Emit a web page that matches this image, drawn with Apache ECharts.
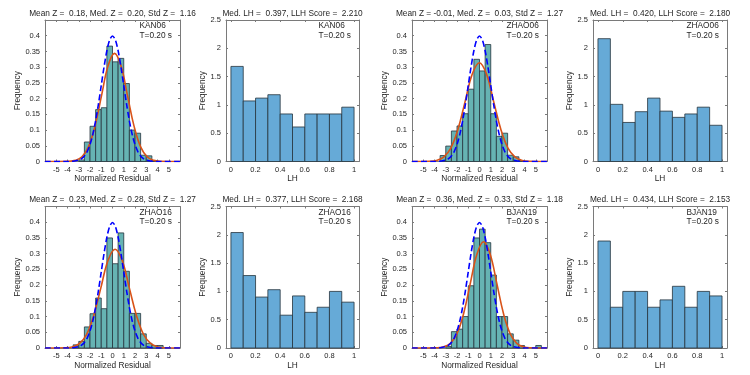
<!DOCTYPE html>
<html>
<head>
<meta charset="utf-8">
<script src="https://cdn.jsdelivr.net/npm/echarts@6/dist/echarts.min.js"></script>
<style>
  html, body { margin: 0; background: #fff; }
  #chart { width: 750px; height: 375px; }
</style>
</head>
<body>
<div id="chart"></div>
<script>
// ---- data ----
const residualBins = [-6, -5.5, -5, -4.5, -4, -3.5, -3, -2.5, -2, -1.5, -1, -0.5, 0, 0.5, 1, 1.5, 2, 2.5, 3, 3.5, 4, 4.5, 5, 5.5];
const residualTicks = [-5, -4, -3, -2, -1, 0, 1, 2, 3, 4, 5];
const residualYTicks = [0, 0.05, 0.1, 0.15, 0.2, 0.25, 0.3, 0.35, 0.4];

const kan06Resid  = [0, 0, 0, 0, 0, 0, 0.005, 0.062, 0.112, 0.165, 0.171, 0.367, 0.317, 0.328, 0.248, 0.10, 0.09, 0.02, 0.018, 0.003, 0, 0, 0, 0];
const zhao06Resid = [0, 0, 0, 0, 0, 0.019, 0.049, 0.097, 0.113, 0.152, 0.23, 0.325, 0.288, 0.372, 0.152, 0.08, 0.09, 0.02, 0.015, 0.003, 0, 0, 0, 0];
const zhao16Resid = [0, 0, 0, 0, 0, 0.01, 0.021, 0.067, 0.109, 0.159, 0.125, 0.35, 0.268, 0.366, 0.244, 0.11, 0.11, 0.045, 0.015, 0.008, 0.008, 0, 0, 0];
const bjan19Resid = [0, 0, 0, 0, 0, 0, 0.005, 0.052, 0.06, 0.1, 0.198, 0.35, 0.378, 0.335, 0.232, 0.1, 0.1, 0.045, 0.025, 0.008, 0, 0, 0.008, 0];

// standard normal (blue dashed), same in every residual panel
const stdNormal = [[-6, 0], [-4, 0.0001], [-3.5, 0.0009], [-3, 0.0044], [-2.75, 0.0091], [-2.5, 0.0175], [-2.25, 0.0317], [-2, 0.054],
  [-1.75, 0.0863], [-1.5, 0.1295], [-1.25, 0.1826], [-1, 0.242], [-0.75, 0.3011], [-0.5, 0.3521], [-0.25, 0.3867], [0, 0.3989],
  [0.25, 0.3867], [0.5, 0.3521], [0.75, 0.3011], [1, 0.242], [1.25, 0.1826], [1.5, 0.1295], [1.75, 0.0863], [2, 0.054],
  [2.25, 0.0317], [2.5, 0.0175], [2.75, 0.0091], [3, 0.0044], [3.5, 0.0009], [4, 0.0001], [6, 0]];

// fitted normal curves (orange)
const kan06Fit = [[-6, 0], [-3.88, 0.0008], [-3.30, 0.0038], [-2.72, 0.0151], [-2.14, 0.0465], [-1.56, 0.1117], [-0.98, 0.2086], [-0.40, 0.3035],
  [0.18, 0.3439], [0.76, 0.3035], [1.34, 0.2086], [1.92, 0.1117], [2.50, 0.0465], [3.08, 0.0151], [3.66, 0.0038], [4.24, 0.0008], [6, 0]];
const zhao06Fit = [[-6, 0], [-4.46, 0.0007], [-3.82, 0.0035], [-3.19, 0.0138], [-2.55, 0.0425], [-1.92, 0.1020], [-1.28, 0.1905], [-0.65, 0.2772],
  [-0.01, 0.3141], [0.63, 0.2772], [1.26, 0.1905], [1.90, 0.1020], [2.53, 0.0425], [3.17, 0.0138], [3.80, 0.0035], [4.44, 0.0007], [6, 0]];
const zhao16Fit = [[-6, 0], [-4.22, 0.0007], [-3.58, 0.0035], [-2.95, 0.0138], [-2.31, 0.0425], [-1.68, 0.1020], [-1.04, 0.1905], [-0.41, 0.2772],
  [0.23, 0.3141], [0.87, 0.2772], [1.50, 0.1905], [2.14, 0.1020], [2.77, 0.0425], [3.41, 0.0138], [4.04, 0.0035], [4.68, 0.0007], [6, 0]];
const bjan19Fit = [[-6, 0], [-3.77, 0.0007], [-3.18, 0.0038], [-2.59, 0.0149], [-2.00, 0.0458], [-1.41, 0.1098], [-0.82, 0.2051], [-0.23, 0.2984],
  [0.36, 0.3381], [0.95, 0.2984], [1.54, 0.2051], [2.13, 0.1098], [2.72, 0.0458], [3.31, 0.0149], [3.90, 0.0038], [4.49, 0.0007], [6, 0]];

const lhBins = [0, 0.1, 0.2, 0.3, 0.4, 0.5, 0.6, 0.7, 0.8, 0.9];
const lhTicks = [0, 0.2, 0.4, 0.6, 0.8, 1];
const lhYTicks = [0, 0.5, 1, 1.5, 2, 2.5];
const kan06LH  = [1.68, 1.07, 1.12, 1.18, 0.84, 0.61, 0.84, 0.84, 0.84, 0.96];
const zhao06LH = [2.17, 1.01, 0.69, 0.88, 1.12, 0.89, 0.78, 0.84, 0.96, 0.64];
const zhao16LH = [2.04, 1.28, 0.9, 1.03, 0.58, 0.92, 0.63, 0.72, 1.0, 0.81];
const bjan19LH = [1.89, 0.72, 1.0, 1.0, 0.72, 0.85, 1.09, 0.72, 1.0, 0.92];

const residTitles = [
  'Mean Z =  0.18, Med. Z =  0.20, Std Z =  1.16',
  'Mean Z = -0.01, Med. Z =  0.03, Std Z =  1.27',
  'Mean Z =  0.23, Med. Z =  0.28, Std Z =  1.27',
  'Mean Z =  0.36, Med. Z =  0.33, Std Z =  1.18'
];
const lhTitles = [
  'Med. LH =  0.397, LLH Score =  2.210',
  'Med. LH =  0.420, LLH Score =  2.180',
  'Med. LH =  0.377, LLH Score =  2.168',
  'Med. LH =  0.434, LLH Score =  2.153'
];
const stations = ['KAN06', 'ZHAO06', 'ZHAO16', 'BJAN19'];
const period = 'T=0.20 s';

// ---- layout / style ----
const FONT = '"Liberation Sans", Arial, Helvetica, sans-serif';
const textColor = '#262626';
const axisColor = '#7a7a7a';
const residFill = '#66b3b3';
const lhFill = '#66aad7';
const barEdge = '#26343c';

const panels = [
  { kind: 'resid', left: 45,  top: 20,    width: 135, title: residTitles[0], station: stations[0], bars: kan06Resid,  fit: kan06Fit },
  { kind: 'lh',    left: 226, top: 20,    width: 133, title: lhTitles[0],    station: stations[0], bars: kan06LH },
  { kind: 'resid', left: 412, top: 20,    width: 135, title: residTitles[1], station: stations[1], bars: zhao06Resid, fit: zhao06Fit },
  { kind: 'lh',    left: 593, top: 20,    width: 134, title: lhTitles[1],    station: stations[1], bars: zhao06LH },
  { kind: 'resid', left: 45,  top: 206.5, width: 135, title: residTitles[2], station: stations[2], bars: zhao16Resid, fit: zhao16Fit },
  { kind: 'lh',    left: 226, top: 206.5, width: 133, title: lhTitles[2],    station: stations[2], bars: zhao16LH },
  { kind: 'resid', left: 412, top: 206.5, width: 135, title: residTitles[3], station: stations[3], bars: bjan19Resid, fit: bjan19Fit },
  { kind: 'lh',    left: 593, top: 206.5, width: 134, title: lhTitles[3],    station: stations[3], bars: bjan19LH }
];
const PANEL_H = 141.5;

const grid = [], xAxis = [], yAxis = [], series = [], graphic = [];

const histRender = (fill) => (params, api) => {
  const h = api.value(2);
  if (!h) return null;
  const p0 = api.coord([api.value(0), h]);
  const p1 = api.coord([api.value(1), 0]);
  return {
    type: 'rect',
    shape: { x: p0[0], y: p0[1], width: p1[0] - p0[0], height: p1[1] - p0[1] },
    style: { fill: fill, stroke: barEdge, lineWidth: 0.8 }
  };
};

panels.forEach((p, i) => {
  const isResid = p.kind === 'resid';
  grid.push({ left: p.left, top: p.top, width: p.width, height: PANEL_H });

  const xTicks = isResid ? residualTicks : lhTicks;
  const xBase = {
    type: 'value', gridIndex: i,
    min: isResid ? -6 : -0.04, max: isResid ? 6 : 1.04,
    splitLine: { show: false },
    axisLine: { show: true, onZero: false, lineStyle: { color: axisColor, width: 1 } },
    axisTick: { show: true, inside: true, length: 2, customValues: xTicks, lineStyle: { color: axisColor } }
  };
  xAxis.push(Object.assign({}, xBase, {
    position: 'bottom',
    axisLabel: { show: true, customValues: xTicks, fontSize: 7.5, color: textColor, margin: 4, fontFamily: FONT },
    name: isResid ? 'Normalized Residual' : 'LH',
    nameLocation: 'middle', nameGap: 13.5,
    nameTextStyle: { fontSize: 8.3, color: textColor, fontFamily: FONT }
  }));
  xAxis.push(Object.assign({}, xBase, { position: 'top', axisLabel: { show: false } }));

  const yTicks = isResid ? residualYTicks : lhYTicks;
  const yBase = {
    type: 'value', gridIndex: i, min: 0, max: isResid ? 0.45 : 2.5,
    splitLine: { show: false },
    axisLine: { show: true, onZero: false, lineStyle: { color: axisColor, width: 1 } },
    axisTick: { show: true, inside: true, length: 2, customValues: yTicks, lineStyle: { color: axisColor } }
  };
  yAxis.push(Object.assign({}, yBase, {
    position: 'left',
    axisLabel: {
      show: true, customValues: yTicks, fontSize: 7.5, color: textColor, margin: 5, fontFamily: FONT,
      formatter: (v) => String(+(+v).toFixed(2))
    },
    name: 'Frequency', nameLocation: 'middle', nameGap: isResid ? 15 : 12.5,
    nameTextStyle: { fontSize: 8.3, color: textColor, fontFamily: FONT }
  }));
  yAxis.push(Object.assign({}, yBase, { position: 'right', axisLabel: { show: false } }));

  const edges = isResid ? residualBins : lhBins;
  const step = isResid ? 0.5 : 0.1;
  series.push({
    type: 'custom', xAxisIndex: 2 * i, yAxisIndex: 2 * i, silent: true,
    renderItem: histRender(isResid ? residFill : lhFill),
    encode: { x: [0, 1], y: 2 },
    data: p.bars.map((h, k) => [edges[k], +(edges[k] + step).toFixed(2), h])
  });

  if (isResid) {
    series.push({
      type: 'line', xAxisIndex: 2 * i, yAxisIndex: 2 * i, silent: true,
      data: p.fit, showSymbol: false, smooth: 0.4,
      lineStyle: { color: '#d95319', width: 1.6 }
    });
    series.push({
      type: 'line', xAxisIndex: 2 * i, yAxisIndex: 2 * i, silent: true,
      data: stdNormal, showSymbol: false, smooth: 0.3,
      lineStyle: { color: '#0000ff', width: 1.6, type: [6, 3] }
    });
  }

  // title above the axes
  graphic.push({
    type: 'text', x: p.left + p.width / 2, y: p.top - 6.5, silent: true,
    style: { text: p.title, align: 'center', verticalAlign: 'middle', font: '8.3px ' + FONT, fill: textColor }
  });
  // station / period note in the top right corner
  graphic.push({
    type: 'text', x: p.left + p.width - 40.5, y: p.top + 1, silent: true,
    style: { text: p.station + '\n' + period, align: 'left', verticalAlign: 'top', lineHeight: 9.5, font: '8.3px ' + FONT, fill: textColor }
  });
});

const option = {
  animation: false,
  backgroundColor: '#fff',
  textStyle: { fontFamily: FONT },
  grid, xAxis, yAxis, series, graphic
};

const myChart = echarts.init(document.getElementById('chart'));
myChart.setOption(option);
</script>
</body>
</html>
